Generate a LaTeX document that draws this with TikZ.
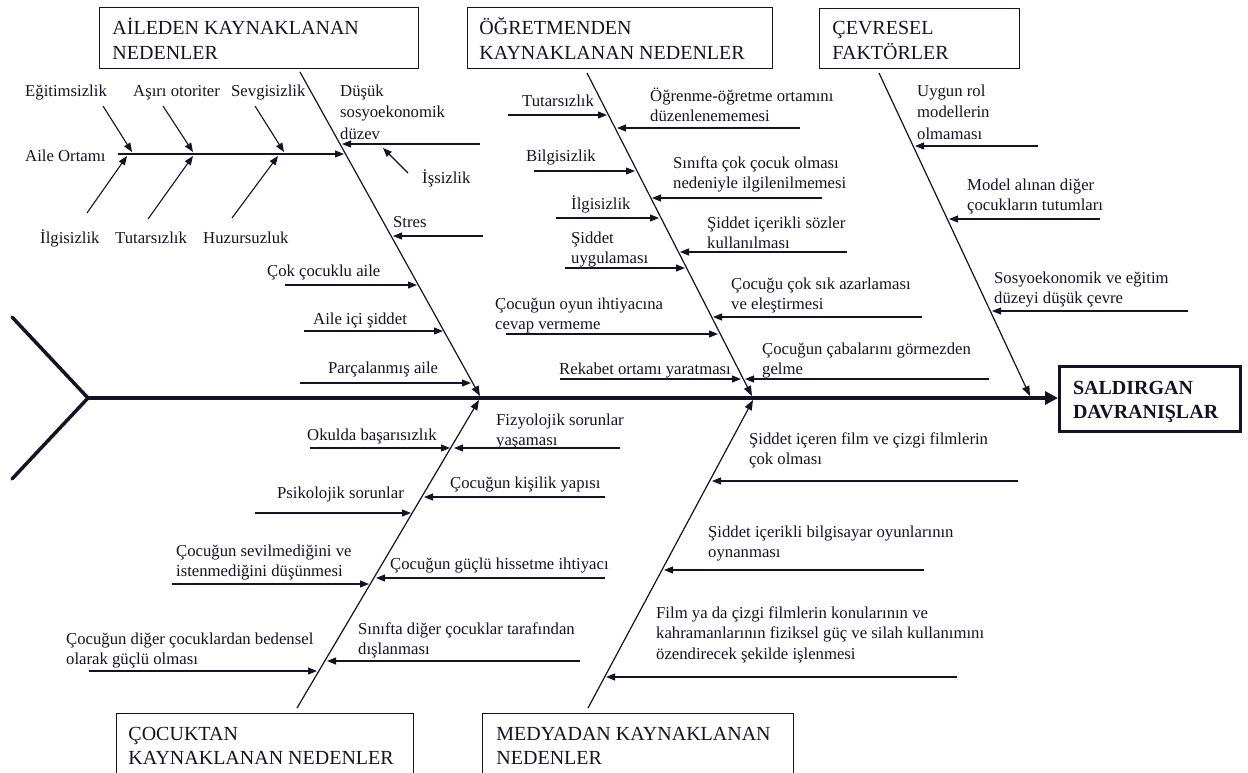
\documentclass[tikz,border=0pt]{standalone}
\usepackage{fontspec}
\setmainfont{Liberation Serif}
\usetikzlibrary{arrows.meta}
\definecolor{ink}{RGB}{22,18,38}
\newcommand\mlines[1]{\begin{tabular}[t]{@{}l@{}}#1\end{tabular}}
\newcommand\boxtext[2]{\makebox[#1][l]{\mlines{#2}}}
\newcommand\carr[3]{\coordinate (#1s) at (#2); \coordinate (#1e) at (#3); \draw[arr] (#1s) -- (#1e);}
\begin{document}
\begin{tikzpicture}[x=1pt,y=-1pt,
  txt/.style={font=\fontsize{16.7}{20.5}\selectfont, inner sep=0pt, anchor=base west, text=ink},
  txtw/.style={txt, font=\fontsize{16.7}{21.5}\selectfont},
  hbox/.style={draw=ink, line width=0.9pt, font=\fontsize{20}{24.5}\selectfont, text=ink, anchor=north west, inner xsep=13pt, inner ysep=0pt},
  arr/.style={draw=ink, line width=1.1pt, -{Triangle[length=9pt,width=7pt]}},
  bone/.style={draw=ink, line width=1.2pt, -{Triangle[length=10pt,width=7.5pt]}}]
\fill[white] (0,0) rectangle (1248,772);
\useasboundingbox (0,0) rectangle (1248,772);

% ---------- category boxes ----------
\node[hbox, text height=27.3pt, text depth=33.7pt] (famB) at (99,7) {\boxtext{293pt}{AİLEDEN KAYNAKLANAN\\NEDENLER}};
\node[hbox, inner xsep=12pt, text height=27.3pt, text depth=33.7pt] (teaB) at (467,7) {\boxtext{281pt}{ÖĞRETMENDEN\\KAYNAKLANAN NEDENLER}};
\node[hbox, text height=26.3pt, text depth=33.7pt] (envB) at (819,8) {\boxtext{174pt}{ÇEVRESEL\\FAKTÖRLER}};
\node[hbox, inner xsep=12pt, text height=27pt, text depth=45pt] (chB) at (116,713) {\boxtext{273pt}{ÇOCUKTAN\\KAYNAKLANAN NEDENLER}};
\node[hbox, inner xsep=14pt, text height=27pt, text depth=45pt] (meB) at (482,713) {\boxtext{283pt}{MEDYADAN KAYNAKLANAN\\NEDENLER}};
\node[hbox, line width=3pt, font={\fontsize{20}{24.5}\selectfont\bfseries}, inner xsep=13.5pt, text height=27.5pt, text depth=37.5pt] (sald) at (1058,365) {\boxtext{154pt}{SALDIRGAN\\DAVRANIŞLAR}};

% ---------- spine and tail ----------
\coordinate (tailU) at (12,317);
\coordinate (tailV) at (88,398);
\coordinate (tailD) at (12,479);
\draw[ink, line width=3.5pt, line cap=round] (tailU) -- (tailV) -- (tailD);
\draw[ink, line width=4pt, -{Triangle[length=13pt,width=13pt]}] (tailV) -- (tailV -| sald.west);

% ---------- bones ----------
\coordinate (famT) at (300,72);   \coordinate (famS) at (480,396);
\coordinate (teaT) at (587,73);   \coordinate (teaS) at (752,396);
\coordinate (envT) at (879,73);   \coordinate (envS) at (1030,396);
\coordinate (chT) at (297,708);   \coordinate (chS) at (479,400);
\coordinate (meT) at (588,708);   \coordinate (meS) at (753,400);
\draw[bone] (famT) -- (famS);
\draw[bone] (teaT) -- (teaS);
\draw[bone] (envT) -- (envS);
\draw[bone] (chT) -- (chS);
\draw[bone] (meT) -- (meS);

% ---------- family causes ----------
\node[txt] (fEgit) at (25,96) {Eğitimsizlik};
\node[txt] (fAsiri) at (133,96) {Aşırı otoriter};
\node[txt] (fSevg) at (231,96) {Sevgisizlik};
\node[txt] (fAile) at (25,161) {Aile Ortamı};
\node[txt] (fIlgi) at (40,243) {İlgisizlik};
\node[txt] (fTuta) at (115,243) {Tutarsızlık};
\node[txt] (fHuzu) at (203,243) {Huzursuzluk};
\node[txtw] (fDusuk) at (340,96) {\mlines{Düşük\\sosyoekonomik\\düzev}};
\node[txt] (fIssiz) at (422,183) {İşsizlik};
\node[txt] (fStres) at (393,227) {Stres};
\node[txt] (fCok) at (267,276) {Çok çocuklu aile};
\node[txt] (fIci) at (313,324) {Aile içi şiddet};
\node[txt] (fParca) at (328,373) {Parçalanmış aile};

\carr{aO}{118,154}{344,154}
\carr{aEg}{103,106}{132,152}
\carr{aAs}{163,106}{193,152}
\carr{aSe}{255,106}{284,152}
\carr{aIl}{87,213}{127,156}
\carr{aTu}{148,219}{193,156}
\carr{aHu}{232,218}{278,156}
\carr{aDu}{480,144}{342,144}
\carr{aIs}{408,173}{383,148}
\carr{aSt}{483,236}{393,236}
\carr{aCo}{285,285}{417,285}
\carr{aIc}{304,331}{443,331}
\carr{aPa}{300,383}{471,383}

% ---------- teacher causes ----------
\node[txt] (tTuta) at (522,106) {Tutarsızlık};
\node[txt] (tOgr) at (650,101) {\mlines{Öğrenme-öğretme ortamını\\düzenlenememesi}};
\node[txt] (tBilg) at (526,161) {Bilgisizlik};
\node[txt] (tSinif) at (673,168) {\mlines{Sınıfta çok çocuk olması\\nedeniyle ilgilenilmemesi}};
\node[txt] (tIlgi) at (571,209) {İlgisizlik};
\node[txt] (tSoz) at (707,228) {\mlines{Şiddet içerikli sözler\\kullanılması}};
\node[txt] (tUyg) at (571,243) {\mlines{Şiddet\\uygulaması}};
\node[txt] (tAzar) at (731,289) {\mlines{Çocuğu çok sık azarlaması\\ve eleştirmesi}};
\node[txt] (tOyun) at (495,309) {\mlines{Çocuğun oyun ihtiyacına\\cevap vermeme}};
\node[txt] (tCaba) at (762,354) {\mlines{Çocuğun çabalarını görmezden\\gelme}};
\node[txt] (tRek) at (559,374) {Rekabet ortamı yaratması};

\carr{bTu}{508,115}{607,115}
\carr{bOg}{800,128}{617,128}
\carr{bBi}{534,171}{635,171}
\carr{bSi}{822,198}{652,198}
\carr{bIl}{556,218}{659,218}
\carr{bSo}{847,252}{680,252}
\carr{bUy}{565,268}{685,268}
\carr{bAz}{922,317}{713,317}
\carr{bOy}{506,334}{718,334}
\carr{bCa}{989,379}{745,379}
\carr{bRe}{560,379}{741,379}

% ---------- environmental factors ----------
\node[txtw] (eRol) at (917,96) {\mlines{Uygun rol\\modellerin\\olmaması}};
\node[txt] (eMod) at (967,190) {\mlines{Model alınan diğer\\çocukların tutumları}};
\node[txt] (eSos) at (994,283) {\mlines{Sosyoekonomik ve eğitim\\düzeyi düşük çevre}};

\carr{cRo}{1038,146}{915,146}
\carr{cMo}{1100,219}{949,219}
\carr{cSo}{1188,311}{992,311}

% ---------- child causes ----------
\node[txt] (kOkul) at (307,440) {Okulda başarısızlık};
\node[txt] (kFiz) at (496,425) {\mlines{Fizyolojik sorunlar\\yaşaması}};
\node[txt] (kPsi) at (277,498) {Psikolojik sorunlar};
\node[txt] (kKis) at (450,488) {Çocuğun kişilik yapısı};
\node[txt] (kSev) at (176,556) {\mlines{Çocuğun sevilmediğini ve\\istenmediğini düşünmesi}};
\node[txt] (kGuc) at (390,569) {Çocuğun güçlü hissetme ihtiyacı};
\node[txt] (kBed) at (66,644) {\mlines{Çocuğun diğer çocuklardan bedensel\\olarak güçlü olması}};
\node[txt] (kDis) at (358,634) {\mlines{Sınıfta diğer çocuklar tarafından\\dışlanması}};

\carr{dOk}{310,448}{450,448}
\carr{dFi}{620,448}{454,448}
\carr{dPs}{255,513}{411,513}
\carr{dKi}{605,497}{424,497}
\carr{dSe}{172,584}{369,584}
\carr{dGu}{605,578}{376,578}
\carr{dBe}{89,671}{317,671}
\carr{dDi}{580,661}{327,661}

% ---------- media causes ----------
\node[txt] (mFilm) at (749,444) {\mlines{Şiddet içeren film ve çizgi filmlerin\\çok olması}};
\node[txt] (mOyun) at (708,537) {\mlines{Şiddet içerikli bilgisayar oyunlarının\\oynanması}};
\node[txt] (mKonu) at (656,618) {\mlines{Film ya da çizgi filmlerin konularının ve\\kahramanlarının fiziksel güç ve silah kullanımını\\özendirecek şekilde işlenmesi}};

\carr{gFi}{1018,481}{712,481}
\carr{gOy}{924,570}{664,570}
\carr{gKo}{957,677}{606,677}
\end{tikzpicture}
\end{document}
